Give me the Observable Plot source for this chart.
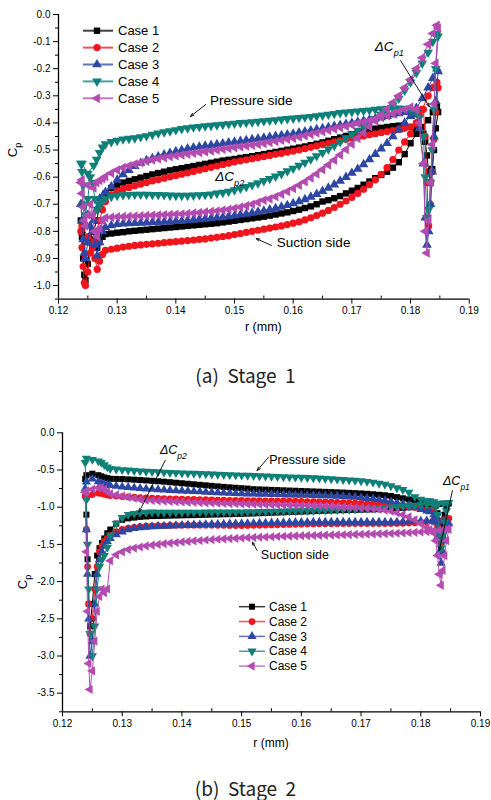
<!DOCTYPE html>
<html><head><meta charset="utf-8">
<script src="https://cdn.jsdelivr.net/npm/d3@7"></script>
<script src="https://cdn.jsdelivr.net/npm/@observablehq/plot@0.6"></script>
<style>
body{margin:0;background:#fff;}
#page{position:relative;width:491px;height:800px;overflow:hidden;font-family:"Liberation Sans",Arial,sans-serif;}
.chart{position:absolute;left:0;}
.caption{position:absolute;left:0;width:491px;text-align:center;font-family:"Noto Sans CJK KR",sans-serif;font-size:19px;white-space:pre;color:#222;height:24px;line-height:24px;}
</style></head><body><div id="page"></div>
<script>
// ---------- shared categories ----------
const cases = ["Case 1","Case 2","Case 3","Case 4","Case 5"];
const xTicks = [0.12,0.13,0.14,0.15,0.16,0.17,0.18,0.19];
const xMinor = [0.125,0.135,0.145,0.155,0.165,0.175,0.185];
const yTicks1 = [0,-0.1,-0.2,-0.3,-0.4,-0.5,-0.6,-0.7,-0.8,-0.9,-1.0];
const yMinor1 = [-0.05,-0.15,-0.25,-0.35,-0.45,-0.55,-0.65,-0.75,-0.85,-0.95,-1.05];
const yTicks2 = [0,-0.5,-1.0,-1.5,-2.0,-2.5,-3.0,-3.5];
const yMinor2 = [-0.25,-0.75,-1.25,-1.75,-2.25,-2.75,-3.25,-3.75];

// r positions along suction side (LE -> TE) and pressure side (TE -> LE)
const rSuction = [
 0.1238,0.1240,0.1242,0.1244,0.1246,0.1250,0.1254,0.1258,0.1262,0.1266,
 0.1270,0.1275,0.1280,0.1290,0.1300,0.1310,0.1320,0.1330,0.1340,0.1350,
 0.136,0.137,0.138,0.139,0.140,0.141,0.142,0.143,0.144,0.145,
 0.146,0.147,0.148,0.149,0.150,0.151,0.152,0.153,0.154,0.155,
 0.156,0.157,0.158,0.159,0.160,0.161,0.162,0.163,0.164,0.165,
 0.166,0.167,0.168,0.169,0.170,0.171,0.172,0.173,0.174,0.175,
 0.176,0.177,0.178,0.179,0.180,0.181,0.182,0.183,0.1838,0.1845];
const rPressure = [
 0.1847,0.1843,0.1840,0.1837,0.1834,0.1831,0.1828,0.1825,0.1822,0.1815,
 0.181,0.180,0.179,0.178,0.177,0.176,0.175,0.174,0.173,0.172,
 0.171,0.170,0.169,0.168,0.167,0.166,0.165,0.164,0.163,0.162,
 0.161,0.160,0.159,0.158,0.157,0.156,0.155,0.154,0.153,0.152,
 0.151,0.150,0.149,0.148,0.147,0.146,0.145,0.144,0.143,0.142,
 0.141,0.140,0.139,0.138,0.137,0.136,0.135,0.134,0.133,0.132,
 0.131,0.130,0.129,0.128,0.1275,0.1270,0.1265,0.1260,0.1250,0.1240];

// ---------- Stage 1 values (Cp) ----------
const s1c1S = [
 -0.76,-0.82,-0.90,-0.96,-0.98,-0.92,-0.84,-0.80,-0.83,-0.86,
 -0.84,-0.82,-0.81,-0.808,-0.805,-0.803,-0.80,-0.798,-0.796,-0.794,
 -0.792,-0.79,-0.788,-0.786,-0.784,-0.782,-0.78,-0.778,-0.776,-0.774,
 -0.772,-0.77,-0.767,-0.764,-0.761,-0.758,-0.755,-0.752,-0.749,-0.746,
 -0.742,-0.738,-0.734,-0.73,-0.725,-0.72,-0.714,-0.708,-0.70,-0.69,
 -0.685,-0.678,-0.67,-0.66,-0.65,-0.64,-0.628,-0.616,-0.604,-0.592,
 -0.58,-0.565,-0.545,-0.515,-0.475,-0.44,-0.415,-0.39,-0.36,-0.34];
const s1c1P = [
 -0.36,-0.42,-0.50,-0.57,-0.62,-0.58,-0.52,-0.47,-0.44,-0.43,
 -0.425,-0.415,-0.41,-0.41,-0.412,-0.415,-0.418,-0.421,-0.425,-0.43,
 -0.436,-0.442,-0.448,-0.454,-0.46,-0.466,-0.472,-0.477,-0.482,-0.487,
 -0.491,-0.495,-0.499,-0.503,-0.507,-0.511,-0.515,-0.519,-0.523,-0.526,
 -0.529,-0.533,-0.536,-0.539,-0.543,-0.547,-0.551,-0.555,-0.559,-0.563,
 -0.567,-0.571,-0.575,-0.58,-0.585,-0.59,-0.596,-0.602,-0.608,-0.614,
 -0.62,-0.628,-0.64,-0.66,-0.68,-0.71,-0.76,-0.80,-0.84,-0.80];
const s1c2S = [
 -0.80,-0.86,-0.93,-0.99,-1.00,-0.95,-0.88,-0.86,-0.90,-0.94,
 -0.91,-0.885,-0.87,-0.866,-0.862,-0.858,-0.855,-0.852,-0.85,-0.848,
 -0.846,-0.844,-0.842,-0.84,-0.838,-0.836,-0.834,-0.832,-0.83,-0.828,
 -0.825,-0.822,-0.819,-0.816,-0.812,-0.808,-0.804,-0.80,-0.796,-0.792,
 -0.788,-0.784,-0.78,-0.775,-0.77,-0.765,-0.758,-0.75,-0.742,-0.733,
 -0.723,-0.712,-0.70,-0.688,-0.675,-0.66,-0.645,-0.628,-0.61,-0.59,
 -0.565,-0.535,-0.50,-0.47,-0.44,-0.40,-0.35,-0.30,-0.27,-0.25];
const s1c2P = [
 -0.27,-0.36,-0.46,-0.58,-0.70,-0.78,-0.62,-0.45,-0.35,-0.37,
 -0.40,-0.415,-0.42,-0.424,-0.428,-0.432,-0.436,-0.44,-0.444,-0.448,
 -0.452,-0.456,-0.46,-0.465,-0.47,-0.475,-0.48,-0.485,-0.49,-0.495,
 -0.50,-0.504,-0.508,-0.512,-0.516,-0.52,-0.524,-0.528,-0.532,-0.536,
 -0.54,-0.544,-0.549,-0.554,-0.559,-0.564,-0.569,-0.574,-0.579,-0.584,
 -0.589,-0.594,-0.599,-0.604,-0.609,-0.614,-0.62,-0.626,-0.632,-0.638,
 -0.645,-0.652,-0.665,-0.69,-0.72,-0.76,-0.80,-0.84,-0.82,-0.78];
const s1c3S = [
 -0.70,-0.76,-0.83,-0.88,-0.90,-0.84,-0.78,-0.80,-0.85,-0.89,
 -0.84,-0.80,-0.785,-0.778,-0.774,-0.772,-0.771,-0.77,-0.769,-0.768,
 -0.767,-0.766,-0.765,-0.764,-0.763,-0.762,-0.76,-0.758,-0.756,-0.754,
 -0.752,-0.75,-0.748,-0.745,-0.742,-0.739,-0.736,-0.732,-0.728,-0.724,
 -0.72,-0.715,-0.71,-0.704,-0.697,-0.69,-0.682,-0.673,-0.663,-0.652,
 -0.64,-0.628,-0.614,-0.60,-0.585,-0.57,-0.553,-0.535,-0.515,-0.495,
 -0.475,-0.45,-0.425,-0.40,-0.375,-0.345,-0.31,-0.27,-0.235,-0.20];
const s1c3P = [
 -0.21,-0.32,-0.45,-0.58,-0.70,-0.80,-0.85,-0.75,-0.55,-0.42,
 -0.37,-0.358,-0.36,-0.365,-0.37,-0.375,-0.38,-0.384,-0.388,-0.392,
 -0.396,-0.40,-0.404,-0.408,-0.412,-0.416,-0.42,-0.424,-0.428,-0.432,
 -0.436,-0.44,-0.443,-0.446,-0.449,-0.452,-0.455,-0.458,-0.461,-0.464,
 -0.467,-0.47,-0.473,-0.476,-0.479,-0.482,-0.485,-0.488,-0.491,-0.495,
 -0.50,-0.505,-0.511,-0.517,-0.524,-0.531,-0.538,-0.548,-0.56,-0.574,
 -0.59,-0.61,-0.635,-0.655,-0.67,-0.68,-0.72,-0.76,-0.74,-0.70];
const s1c4S = [
 -0.55,-0.58,-0.63,-0.70,-0.74,-0.68,-0.60,-0.62,-0.68,-0.72,
 -0.70,-0.69,-0.68,-0.672,-0.668,-0.666,-0.665,-0.664,-0.664,-0.664,
 -0.665,-0.665,-0.666,-0.667,-0.668,-0.668,-0.668,-0.667,-0.666,-0.665,
 -0.663,-0.66,-0.657,-0.653,-0.648,-0.642,-0.636,-0.629,-0.622,-0.614,
 -0.606,-0.597,-0.588,-0.578,-0.568,-0.557,-0.546,-0.534,-0.522,-0.51,
 -0.497,-0.484,-0.47,-0.456,-0.442,-0.428,-0.414,-0.40,-0.385,-0.37,
 -0.355,-0.335,-0.31,-0.28,-0.25,-0.215,-0.18,-0.14,-0.10,-0.07];
const s1c4P = [
 -0.08,-0.20,-0.35,-0.50,-0.62,-0.72,-0.75,-0.60,-0.45,-0.38,
 -0.36,-0.352,-0.348,-0.346,-0.346,-0.347,-0.349,-0.351,-0.353,-0.355,
 -0.357,-0.359,-0.361,-0.363,-0.366,-0.369,-0.372,-0.375,-0.377,-0.379,
 -0.381,-0.383,-0.385,-0.387,-0.389,-0.391,-0.393,-0.395,-0.397,-0.399,
 -0.40,-0.402,-0.404,-0.406,-0.408,-0.41,-0.412,-0.414,-0.416,-0.419,
 -0.422,-0.426,-0.43,-0.434,-0.438,-0.443,-0.448,-0.452,-0.456,-0.458,
 -0.46,-0.465,-0.47,-0.478,-0.49,-0.51,-0.535,-0.557,-0.587,-0.55];
const s1c5S = [
 -0.62,-0.66,-0.71,-0.76,-0.78,-0.74,-0.70,-0.74,-0.80,-0.82,
 -0.79,-0.76,-0.75,-0.748,-0.747,-0.746,-0.745,-0.744,-0.743,-0.742,
 -0.741,-0.74,-0.739,-0.738,-0.737,-0.736,-0.735,-0.733,-0.731,-0.729,
 -0.727,-0.725,-0.722,-0.719,-0.715,-0.711,-0.706,-0.70,-0.693,-0.685,
 -0.68,-0.672,-0.663,-0.653,-0.642,-0.63,-0.617,-0.603,-0.588,-0.572,
 -0.555,-0.537,-0.518,-0.498,-0.478,-0.457,-0.436,-0.414,-0.392,-0.37,
 -0.348,-0.325,-0.30,-0.27,-0.24,-0.20,-0.16,-0.11,-0.07,-0.04];
const s1c5P = [
 -0.05,-0.18,-0.33,-0.48,-0.62,-0.76,-0.88,-0.80,-0.55,-0.40,
 -0.35,-0.342,-0.35,-0.358,-0.366,-0.373,-0.38,-0.386,-0.392,-0.397,
 -0.402,-0.407,-0.412,-0.417,-0.422,-0.427,-0.432,-0.437,-0.442,-0.447,
 -0.452,-0.456,-0.46,-0.464,-0.468,-0.472,-0.476,-0.479,-0.482,-0.485,
 -0.488,-0.491,-0.494,-0.497,-0.50,-0.503,-0.506,-0.509,-0.512,-0.515,
 -0.518,-0.521,-0.524,-0.528,-0.532,-0.536,-0.541,-0.546,-0.552,-0.558,
 -0.565,-0.574,-0.585,-0.598,-0.606,-0.612,-0.62,-0.64,-0.63,-0.61];

// ---------- Stage 2 values (Cp) ----------
const s2c1S = [
 -0.62,-1.1,-1.7,-2.3,-2.6,-2.3,-1.9,-1.65,-1.55,-1.48,
 -1.42,-1.35,-1.30,-1.22,-1.17,-1.15,-1.14,-1.13,-1.125,-1.12,
 -1.118,-1.116,-1.114,-1.112,-1.11,-1.108,-1.106,-1.104,-1.102,-1.10,
 -1.098,-1.096,-1.094,-1.092,-1.09,-1.087,-1.084,-1.081,-1.078,-1.075,
 -1.072,-1.069,-1.066,-1.063,-1.06,-1.057,-1.054,-1.051,-1.048,-1.045,
 -1.042,-1.04,-1.038,-1.036,-1.034,-1.032,-1.03,-1.027,-1.024,-1.02,
 -1.015,-1.01,-1.003,-0.995,-0.985,-0.975,-0.965,-0.958,-0.952,-0.95];
const s2c1P = [
 -0.95,-1.0,-1.1,-1.2,-1.28,-1.2,-1.08,-0.98,-0.94,-0.93,
 -0.925,-0.915,-0.905,-0.895,-0.88,-0.865,-0.85,-0.84,-0.833,-0.826,
 -0.82,-0.815,-0.811,-0.807,-0.803,-0.80,-0.797,-0.794,-0.791,-0.788,
 -0.785,-0.782,-0.779,-0.776,-0.773,-0.77,-0.767,-0.764,-0.761,-0.758,
 -0.75,-0.745,-0.739,-0.733,-0.727,-0.72,-0.713,-0.706,-0.699,-0.692,
 -0.685,-0.678,-0.671,-0.664,-0.657,-0.651,-0.645,-0.64,-0.635,-0.63,
 -0.626,-0.622,-0.62,-0.618,-0.61,-0.60,-0.585,-0.57,-0.55,-0.57];
const s2c2S = [
 -0.85,-1.3,-1.8,-2.3,-2.7,-2.5,-2.1,-1.8,-1.6,-1.52,
 -1.46,-1.42,-1.38,-1.33,-1.30,-1.28,-1.27,-1.262,-1.256,-1.252,
 -1.249,-1.247,-1.245,-1.244,-1.243,-1.242,-1.242,-1.242,-1.242,-1.242,
 -1.243,-1.244,-1.245,-1.246,-1.246,-1.245,-1.244,-1.242,-1.24,-1.238,
 -1.236,-1.234,-1.232,-1.23,-1.228,-1.226,-1.225,-1.224,-1.223,-1.222,
 -1.221,-1.22,-1.22,-1.22,-1.22,-1.22,-1.22,-1.22,-1.22,-1.22,
 -1.218,-1.216,-1.213,-1.21,-1.205,-1.2,-1.19,-1.18,-1.17,-1.16];
const s2c2P = [
 -1.15,-1.2,-1.3,-1.4,-1.48,-1.38,-1.25,-1.12,-1.06,-1.045,
 -1.035,-1.02,-1.005,-0.995,-0.987,-0.98,-0.975,-0.97,-0.965,-0.96,
 -0.955,-0.95,-0.946,-0.942,-0.939,-0.936,-0.933,-0.93,-0.928,-0.926,
 -0.924,-0.922,-0.92,-0.918,-0.917,-0.916,-0.915,-0.914,-0.913,-0.912,
 -0.911,-0.91,-0.909,-0.908,-0.906,-0.904,-0.902,-0.90,-0.898,-0.896,
 -0.894,-0.892,-0.89,-0.887,-0.884,-0.881,-0.878,-0.874,-0.87,-0.866,
 -0.862,-0.857,-0.85,-0.843,-0.835,-0.825,-0.815,-0.81,-0.83,-0.88];
const s2c3S = [
 -0.75,-1.3,-1.9,-2.5,-3.0,-2.8,-2.3,-1.9,-1.7,-1.6,
 -1.52,-1.46,-1.42,-1.37,-1.33,-1.30,-1.285,-1.275,-1.268,-1.262,
 -1.258,-1.254,-1.25,-1.247,-1.244,-1.241,-1.238,-1.235,-1.232,-1.23,
 -1.228,-1.226,-1.224,-1.222,-1.22,-1.218,-1.216,-1.214,-1.212,-1.21,
 -1.208,-1.206,-1.205,-1.204,-1.203,-1.202,-1.201,-1.20,-1.20,-1.20,
 -1.20,-1.20,-1.20,-1.20,-1.20,-1.20,-1.20,-1.20,-1.20,-1.20,
 -1.198,-1.196,-1.193,-1.19,-1.186,-1.182,-1.178,-1.18,-1.19,-1.2];
const s2c3P = [
 -1.22,-1.3,-1.45,-1.6,-1.75,-1.6,-1.4,-1.2,-1.1,-1.06,
 -1.05,-1.03,-1.0,-0.975,-0.955,-0.94,-0.925,-0.91,-0.898,-0.888,
 -0.88,-0.872,-0.865,-0.86,-0.855,-0.851,-0.848,-0.845,-0.843,-0.841,
 -0.839,-0.837,-0.835,-0.833,-0.831,-0.829,-0.827,-0.825,-0.823,-0.821,
 -0.82,-0.818,-0.815,-0.812,-0.808,-0.804,-0.80,-0.796,-0.792,-0.788,
 -0.784,-0.78,-0.776,-0.772,-0.768,-0.763,-0.758,-0.752,-0.746,-0.74,
 -0.733,-0.725,-0.716,-0.708,-0.70,-0.69,-0.675,-0.655,-0.62,-0.66];
const s2c4S = [
 -0.40,-0.9,-1.5,-2.1,-2.7,-3.0,-2.6,-2.1,-1.8,-1.7,
 -1.65,-1.54,-1.38,-1.22,-1.14,-1.10,-1.085,-1.075,-1.07,-1.068,
 -1.07,-1.07,-1.07,-1.07,-1.07,-1.069,-1.069,-1.069,-1.068,-1.068,
 -1.068,-1.067,-1.067,-1.066,-1.065,-1.064,-1.063,-1.061,-1.059,-1.057,
 -1.055,-1.053,-1.051,-1.049,-1.047,-1.045,-1.043,-1.041,-1.039,-1.037,
 -1.035,-1.032,-1.029,-1.026,-1.022,-1.018,-1.014,-1.01,-1.005,-1.0,
 -0.995,-0.99,-0.984,-0.977,-0.968,-0.96,-0.955,-0.95,-0.95,-0.95];
const s2c4P = [
 -0.94,-1.05,-1.2,-1.38,-1.55,-1.35,-1.1,-0.97,-0.93,-0.915,
 -0.915,-0.895,-0.86,-0.80,-0.765,-0.74,-0.715,-0.695,-0.68,-0.665,
 -0.655,-0.648,-0.641,-0.635,-0.63,-0.625,-0.62,-0.615,-0.611,-0.607,
 -0.604,-0.601,-0.598,-0.595,-0.592,-0.589,-0.586,-0.583,-0.58,-0.577,
 -0.574,-0.571,-0.568,-0.565,-0.562,-0.559,-0.556,-0.553,-0.55,-0.547,
 -0.544,-0.541,-0.538,-0.535,-0.531,-0.527,-0.523,-0.519,-0.514,-0.509,
 -0.503,-0.497,-0.49,-0.484,-0.46,-0.43,-0.40,-0.38,-0.36,-0.345];
const s2c5S = [
 -0.80,-1.6,-2.4,-3.1,-3.45,-3.2,-2.8,-2.4,-2.2,-2.1,
 -2.15,-2.1,-1.72,-1.64,-1.60,-1.57,-1.55,-1.535,-1.52,-1.51,
 -1.50,-1.49,-1.482,-1.474,-1.467,-1.46,-1.453,-1.447,-1.441,-1.436,
 -1.431,-1.426,-1.422,-1.418,-1.414,-1.41,-1.406,-1.403,-1.40,-1.397,
 -1.394,-1.391,-1.388,-1.386,-1.384,-1.382,-1.38,-1.378,-1.376,-1.374,
 -1.372,-1.37,-1.368,-1.366,-1.364,-1.362,-1.36,-1.358,-1.356,-1.353,
 -1.35,-1.347,-1.343,-1.338,-1.333,-1.328,-1.32,-1.31,-1.30,-1.29];
const s2c5P = [
 -1.30,-1.45,-1.65,-1.85,-2.05,-1.9,-1.65,-1.45,-1.35,-1.30,
 -1.27,-1.22,-1.17,-1.13,-1.10,-1.075,-1.055,-1.04,-1.03,-1.022,
 -1.015,-1.01,-1.005,-1.0,-0.996,-0.992,-0.988,-0.985,-0.982,-0.98,
 -0.978,-0.976,-0.974,-0.972,-0.97,-0.968,-0.966,-0.964,-0.962,-0.96,
 -0.958,-0.956,-0.954,-0.952,-0.95,-0.947,-0.944,-0.941,-0.938,-0.935,
 -0.932,-0.929,-0.926,-0.922,-0.918,-0.914,-0.91,-0.905,-0.895,-0.88,
 -0.865,-0.85,-0.835,-0.82,-0.79,-0.76,-0.735,-0.74,-0.76,-0.78];

// ---------- annotations (data coordinates) ----------
const arrows1 = [
 {x1:0.1451,y1:-0.332,x2:0.1425,y2:-0.376},
 {x1:0.1563,y1:-0.852,x2:0.1537,y2:-0.827},
 {x1:0.1783,y1:-0.17,x2:0.1832,y2:-0.34}];
const labels1 = [{r:0.1459,cp:-0.317,text:"Pressure side"},{r:0.1573,cp:-0.841,text:"Suction side"}];
const deltas1 = [{r:0.1468,cp:-0.60,sub:"p2"},{r:0.1740,cp:-0.12,sub:"p1"}];
const arrows2 = [
 {x1:0.1372,y1:-0.372,x2:0.1328,y2:-1.067},
 {x1:0.1545,y1:-0.328,x2:0.1526,y2:-0.507},
 {x1:0.1526,y1:-1.582,x2:0.1518,y2:-1.47},
 {x1:0.1853,y1:-0.776,x2:0.1831,y2:-1.582}];
const labels2 = [{r:0.1547,cp:-0.372,text:"Pressure side"},{r:0.1533,cp:-1.649,text:"Suction side"}];
const deltas2 = [{r:0.1364,cp:-0.238,sub:"p2"},{r:0.1838,cp:-0.655,sub:"p1"}];

// ---------- styling ----------
const colors = ["#000000","#f0141c","#2d47a3","#0f8078","#b34bb0"];
function tri(angle){return {draw(ctx,size){const R=Math.sqrt(size/1.299);for(let i=0;i<3;i++){const a=(angle+i*120)*Math.PI/180;const x=R*Math.cos(a),y=R*Math.sin(a);if(i)ctx.lineTo(x,y);else ctx.moveTo(x,y);}ctx.closePath();}};}
const symbols = [d3.symbolSquare, d3.symbolCircle, tri(-90), tri(90), tri(180)];
const FONT = "Liberation Sans, Arial, sans-serif";

function caseRows(S,P,k){
  const out=[];
  S.forEach((v,i)=>out.push({r:rSuction[i],cp:v,c:cases[k]}));
  P.forEach((v,i)=>out.push({r:rPressure[i],cp:v,c:cases[k]}));
  return out;
}
const stage1 = [caseRows(s1c1S,s1c1P,0),caseRows(s1c2S,s1c2P,1),caseRows(s1c3S,s1c3P,2),caseRows(s1c4S,s1c4P,3),caseRows(s1c5S,s1c5P,4)];
const stage2 = [caseRows(s2c1S,s2c1P,0),caseRows(s2c2S,s2c2P,1),caseRows(s2c3S,s2c3P,2),caseRows(s2c4S,s2c4P,3),caseRows(s2c5S,s2c5P,4)];

function build(cfg){
  const marks=[];
  cfg.data.forEach((d,k)=>{
    marks.push(Plot.line(d,{x:"r",y:"cp",stroke:colors[k],strokeWidth:1}));
    marks.push(Plot.dot(d,{x:"r",y:"cp",symbol:symbols[k],fill:colors[k],r:cfg.r,stroke:"none"}));
  });
  marks.push(Plot.ruleX([0.12],{stroke:"#000",strokeWidth:1.3}));
  marks.push(Plot.ruleY([cfg.ymin],{stroke:"#000",strokeWidth:1.3}));
  marks.push(Plot.axisX({ticks:xTicks,tickSize:5,tickPadding:3,tickFormat:d=>d.toFixed(2),label:null,fontSize:cfg.tickFont}));
  marks.push(Plot.axisX({ticks:xMinor,tickSize:3,dy:-3,text:null,label:null}));
  marks.push(Plot.axisY({ticks:cfg.yTicks,tickSize:5,tickPadding:3,tickFormat:d=>d.toFixed(1),label:null,fontSize:cfg.tickFont}));
  marks.push(Plot.axisY({ticks:cfg.yMinor,tickSize:3,text:null,label:null}));
  marks.push(Plot.arrow(cfg.arrows,{x1:"x1",y1:"y1",x2:"x2",y2:"y2",stroke:"#000",strokeWidth:0.9,headLength:6,headAngle:40}));
  const chart = Plot.plot({
    width:491,height:cfg.height,marginLeft:cfg.ml,marginRight:cfg.mr,marginTop:cfg.mt,marginBottom:cfg.mb,
    style:{fontFamily:FONT,fontSize:cfg.tickFont+"px",color:"#000",background:"transparent",overflow:"visible"},
    x:{domain:[0.12,0.19]},y:{domain:[cfg.ymin,0]},
    marks
  });
  const sx0=chart.scale("x"), sy0=chart.scale("y");
  const sx=sx0.apply?v=>sx0.apply(v):d3.scaleLinear(sx0.domain,sx0.range);
  const sy=sy0.apply?v=>sy0.apply(v):d3.scaleLinear(sy0.domain,sy0.range);
  const svg=d3.select(chart);
  // annotation labels
  cfg.labels.forEach(l=>{
    svg.append("text").attr("x",sx(l.r)).attr("y",sy(l.cp)).attr("dy","0.35em").attr("text-anchor","start")
      .attr("font-family",FONT).attr("font-size",cfg.annFont).attr("fill","#000").text(l.text);
  });
  cfg.deltas.forEach(l=>{
    const t=svg.append("text").attr("x",sx(l.r)).attr("y",sy(l.cp)).attr("dy","0.35em").attr("text-anchor","start")
      .attr("font-family",FONT).attr("font-size",cfg.annFont).attr("font-style","italic").attr("fill","#000");
    t.append("tspan").text("\u0394C");
    t.append("tspan").attr("font-size",cfg.annFont*0.68).attr("dy",cfg.annFont*0.35).text(l.sub);
  });
  // axis titles
  const yl=svg.append("text").attr("transform",`translate(${cfg.ylab[0]},${cfg.ylab[1]}) rotate(-90)`)
    .attr("text-anchor","middle").attr("font-family",FONT).attr("font-size",cfg.labFont).attr("fill","#000");
  yl.append("tspan").text("C");
  yl.append("tspan").attr("font-size",cfg.labFont*0.7).attr("dy",cfg.labFont*0.3).text("p");
  const xc=(sx(0.12)+sx(0.19))/2;
  svg.append("text").attr("x",xc).attr("y",cfg.xlabY).attr("text-anchor","middle").attr("dy","0.35em")
    .attr("font-family",FONT).attr("font-size",cfg.xlabFont).attr("fill","#000").text("r (mm)");
  // legend
  const lg=cfg.legend;
  cases.forEach((c,k)=>{
    const y=lg.y0+k*lg.dy;
    svg.append("line").attr("x1",lg.x1).attr("x2",lg.x2).attr("y1",y).attr("y2",y)
      .attr("stroke",colors[k]).attr("stroke-opacity",0.75).attr("stroke-width",lg.lw);
    svg.append("path").attr("transform",`translate(${lg.xm},${y})`)
      .attr("d",d3.symbol(symbols[k],Math.PI*cfg.r*cfg.r)()).attr("fill",colors[k]);
    svg.append("text").attr("x",lg.xt).attr("y",y).attr("dy","0.35em").attr("text-anchor","start").attr("font-family",FONT)
      .attr("font-size",lg.font).attr("fill","#000").text(c);
  });
  return chart;
}

const page=document.getElementById("page");
const c1=build({data:stage1,height:340,ml:58,mr:22.3,mt:14,mb:41.4,ymin:-1.05,yTicks:yTicks1,yMinor:yMinor1,
  r:3.6,tickFont:10,annFont:13.5,labFont:13,xlabFont:12.5,xlabY:327,ylab:[17,150],
  arrows:arrows1,labels:labels1,deltas:deltas1,
  legend:{x1:83,x2:113,xm:97,xt:118,y0:30.7,dy:16.9,font:13,lw:2}});
c1.classList.add("chart"); c1.style.top="0px"; page.appendChild(c1);
const cap1=document.createElement("div"); cap1.className="caption"; cap1.style.top="363px"; cap1.textContent="(a)  Stage  1"; page.appendChild(cap1);

const c2=build({data:stage2,height:355,ml:62,mr:11,mt:32.3,mb:43.7,ymin:-3.75,yTicks:yTicks2,yMinor:yMinor2,
  r:3.4,tickFont:10,annFont:12.5,labFont:13,xlabFont:12,xlabY:343,ylab:[27,182],
  arrows:arrows2,labels:labels2,deltas:deltas2,
  legend:{x1:239,x2:265,xm:252,xt:269,y0:206.7,dy:14.85,font:12,lw:1.5}});
c2.classList.add("chart"); c2.style.top="400px"; page.appendChild(c2);
const cap2=document.createElement("div"); cap2.className="caption"; cap2.style.top="776px"; cap2.textContent="(b)  Stage  2"; page.appendChild(cap2);
</script></body></html>
